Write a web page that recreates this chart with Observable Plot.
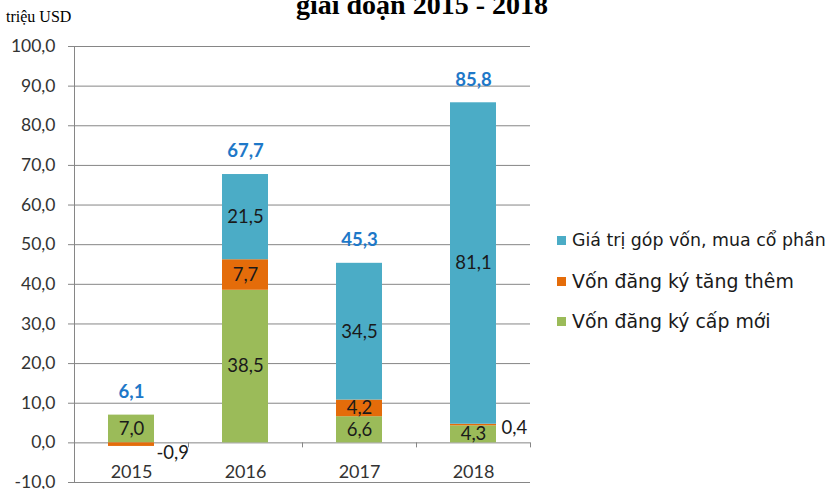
<!DOCTYPE html>
<html><head><meta charset="utf-8">
<script src="https://cdn.jsdelivr.net/npm/d3@7"></script>
<script src="https://cdn.jsdelivr.net/npm/@observablehq/plot@0.6"></script>
<style>
body{margin:0;background:#fff;}
#wrap{position:relative;width:829px;height:489px;overflow:hidden;background:#fff;}
#wrap svg{position:absolute;left:0;top:0;}
.title{position:absolute;left:422px;transform:translateX(-50%);top:-9px;font:bold 28px/28px "Liberation Serif",serif;color:#000;white-space:nowrap;}
.unit{position:absolute;left:6px;top:9px;font:16px/16px "Liberation Serif",serif;color:#000;white-space:nowrap;}
.leg{position:absolute;left:557px;display:flex;align-items:center;white-space:nowrap;font-family:"DejaVu Sans",sans-serif;color:#1a1a1a;}
.leg span.sw{display:inline-block;width:9px;height:9px;margin-right:6px;}
</style>
</head><body>
<div id="wrap"></div>
<script>
const years = ["2015", "2016", "2017", "2018"];
const seriesNames = ["Vốn đăng ký cấp mới", "Vốn đăng ký tăng thêm", "Giá trị góp vốn, mua cổ phần"];
const newCapital = [7.0, 38.5, 6.6, 4.3];
const addedCapital = [-0.9, 7.7, 4.2, 0.4];
const shareValue = [0, 21.5, 34.5, 81.1];
const totals = [6.1, 67.7, 45.3, 85.8];
const yTicks = [-10, 0, 10, 20, 30, 40, 50, 60, 70, 80, 90, 100];
const colors = ["#9BBB59", "#E46C0A", "#4BACC6"];
const unitLabel = "triệu USD";
const titleText = "giai đoạn 2015 - 2018";

const seriesValues = [newCapital, addedCapital, shareValue];
const rows = years.flatMap((yr, i) => seriesNames.map((s, j) => ({year: yr, series: s, value: seriesValues[j][i]})));
const posTop = years.map((_, i) => seriesValues.reduce((a, arr) => a + Math.max(0, arr[i]), 0));
const fmt = v => v.toFixed(1).replace(".", ",");
const small = d => Math.abs(d.value) < 1;

const chart = Plot.plot({
  width: 829, height: 489,
  marginTop: 46, marginBottom: 7, marginLeft: 74, marginRight: 299,
  style: {fontFamily: "Lato, sans-serif", background: "transparent", overflow: "visible"},
  x: {domain: years, paddingInner: 0.6, paddingOuter: 0.3, axis: null},
  y: {domain: [-10, 100], axis: null},
  color: {domain: seriesNames, range: colors},
  marks: [
    Plot.ruleY(yTicks, {stroke: "#868686"}),
    Plot.axisY(yTicks, {tickSize: 6, tickPadding: 13, tickFormat: fmt, stroke: "#868686", fill: "#333333", fontSize: 17.5, label: null}),
    Plot.frame({anchor: "left", stroke: "#868686"}),
    Plot.ruleX(years, {x: d => d, y1: () => 0, y2: () => 0, insetBottom: -5, dx: -57, stroke: "#868686"}),
    Plot.ruleX([years[years.length - 1]], {x: d => d, y1: () => 0, y2: () => 0, insetBottom: -5, dx: 57, stroke: "#868686"}),
    Plot.barY(rows, Plot.stackY({x: "year", y: "value", fill: "series", z: "series"})),
    Plot.text(rows, Plot.stackY({x: "year", y: "value", z: "series", text: d => small(d) ? "" : fmt(d.value), fill: "#1a1a1a", fontSize: 18.5})),
    Plot.text(rows, Plot.stackY({x: "year", y: "value", z: "series", text: d => small(d) && d.value < 0 ? fmt(d.value) : "", textAnchor: "start", dx: 25, dy: 8, fill: "#1a1a1a", fontSize: 18.5})),
    Plot.text(rows, Plot.stackY({x: "year", y: "value", z: "series", text: d => small(d) && d.value > 0 ? fmt(d.value) : "", textAnchor: "start", dx: 28, dy: 3, fill: "#1a1a1a", fontSize: 18.5})),
    Plot.text(years, {x: d => d, y: (d, i) => posTop[i], text: (d, i) => fmt(totals[i]), dy: -23, fill: "#1E78C8", fontWeight: "bold", fontSize: 18.5}),
    Plot.text(years, {x: d => d, y: () => 0, dy: 29, fill: "#333333", fontSize: 18})
  ]
});

const wrap = document.getElementById("wrap");
wrap.appendChild(chart);

const t = document.createElement("div"); t.className = "title"; t.textContent = titleText; wrap.appendChild(t);
const u = document.createElement("div"); u.className = "unit"; u.textContent = unitLabel; wrap.appendChild(u);

const legOrder = [2, 1, 0];
const legTops = [240, 281, 321];
const legSizes = [17.4, 18.9, 18.9];
legOrder.forEach((j, k) => {
  const row = document.createElement("div");
  row.className = "leg";
  row.style.fontSize = legSizes[k] + "px";
  row.style.top = (legTops[k] - 12) + "px";
  row.style.height = "24px";
  const sw = document.createElement("span"); sw.className = "sw"; sw.style.background = colors[j];
  const tx = document.createElement("span"); tx.textContent = seriesNames[j];
  row.appendChild(sw); row.appendChild(tx);
  wrap.appendChild(row);
});
</script>
</body></html>
